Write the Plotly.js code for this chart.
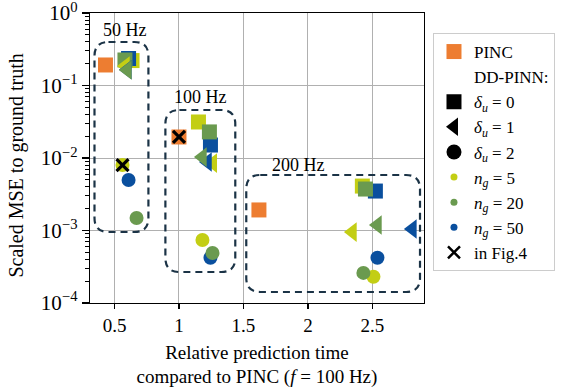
<!DOCTYPE html>
<html><head><meta charset="utf-8">
<script src="https://cdn.plot.ly/plotly-3.0.1.min.js"></script>
<style>html,body{margin:0;padding:0;background:#fff}#plot{width:569px;height:391px}</style>
</head><body><div id="plot"></div>
<script>
// ---- data ----
const freqLabels = ['50 Hz', '100 Hz', '200 Hz'];
const pincTime = [0.43, 1.0, 1.62];
const pincMSE  = [0.192, 0.0195, 0.00192];

// delta_u = 0 (squares), per frequency [50, 100, 200]
const sq_ng5_time  = [0.636, 1.151, 2.422];
const sq_ng5_mse   = [0.221, 0.0314, 0.0041];
const sq_ng20_time = [0.581, 1.236, 2.446];
const sq_ng20_mse  = [0.225, 0.0229, 0.00373];
const sq_ng50_time = [0.609, 1.244, 2.523];
const sq_ng50_mse  = [0.236, 0.0151, 0.0035];
// delta_u = 1 (left triangles)
const tri_ng5_time  = [0.585, 1.262, 2.345];
const tri_ng5_mse   = [0.186, 0.0085, 0.00095];
const tri_ng20_time = [0.60, 1.182, 2.539];
const tri_ng20_mse  = [0.164, 0.0103, 0.00119];
const tri_ng50_time = [0.60, 1.221, 2.81];
const tri_ng50_mse  = [0.165, 0.0088, 0.00105];
// delta_u = 2 (circles)
const cir_ng5_time  = [0.562, 1.182, 2.508];
const cir_ng5_mse   = [0.0080, 0.00074, 0.00023];
const cir_ng20_time = [0.671, 1.26, 2.43];
const cir_ng20_mse  = [0.00149, 0.00049, 0.00026];
const cir_ng50_time = [0.609, 1.244, 2.539];
const cir_ng50_mse  = [0.00497, 0.00042, 0.00042];
// points shown in Fig.4
const fig4Time = [0.562, 1.0];
const fig4MSE  = [0.0080, 0.0195];

const yTickVals = [1, 0.1, 0.01, 0.001, 0.0001];
const yTickText = ['10<sup>0</sup>', '10<sup>\u22121</sup>', '10<sup>\u22122</sup>', '10<sup>\u22123</sup>', '10<sup>\u22124</sup>'];
const xTickVals = [0.5, 1, 1.5, 2, 2.5];
const xTickText = ['0.5', '1', '1.5', '2', '2.5'];

// ---- styles ----
const ORANGE = '#ED7D31', YEL = '#C3CE14', GRN = '#6A9A4F', BLU = '#0A4F9E';
const FONT = "'Liberation Serif', serif";
const SQ = 15, TRI = 17, CIR = 14;

function pts(x, y, sym, size, color) {
  return {type: 'scatter', mode: 'markers', x: x, y: y, showlegend: false, hoverinfo: 'skip',
          marker: {symbol: sym, size: size, color: color, line: {width: 0}}};
}
function leg(name, sym, size, color, lw) {
  return {type: 'scatter', mode: 'markers', x: [null], y: [null], name: name, showlegend: true,
          marker: {symbol: sym, size: size, color: color, line: {width: lw || 0, color: '#000'}}};
}

const traces = [
  pts(sq_ng5_time, sq_ng5_mse, 'square', SQ, YEL),
  pts(sq_ng50_time, sq_ng50_mse, 'square', SQ, BLU),
  pts(sq_ng20_time, sq_ng20_mse, 'square', SQ, GRN),
  pts(tri_ng5_time, tri_ng5_mse, 'triangle-left', TRI, YEL),
  pts(tri_ng50_time, tri_ng50_mse, 'triangle-left', TRI, BLU),
  pts(tri_ng20_time, tri_ng20_mse, 'triangle-left', TRI, GRN),
  pts(cir_ng5_time, cir_ng5_mse, 'circle', CIR, YEL),
  pts(cir_ng50_time, cir_ng50_mse, 'circle', CIR, BLU),
  pts(cir_ng20_time, cir_ng20_mse, 'circle', CIR, GRN),
  pts(pincTime, pincMSE, 'square', SQ, ORANGE),
  {type: 'scatter', mode: 'markers', x: fig4Time, y: fig4MSE, showlegend: false, hoverinfo: 'skip',
   marker: {symbol: 'x-thin', size: 12, color: '#000', line: {width: 3.2, color: '#000'}}},
  // legend entries
  leg('PINC', 'square', 15, ORANGE),
  leg('DD-PINN:', 'square', 15, 'rgba(0,0,0,0)'),
  leg('<i>δ<sub>u</sub></i> = 0', 'square', 15, '#000'),
  leg('<i>δ<sub>u</sub></i> = 1', 'triangle-left', 16, '#000'),
  leg('<i>δ<sub>u</sub></i> = 2', 'circle', 15, '#000'),
  leg('<i>n<sub>g</sub></i> = 5', 'circle', 7, YEL),
  leg('<i>n<sub>g</sub></i> = 20', 'circle', 7, GRN),
  leg('<i>n<sub>g</sub></i> = 50', 'circle', 7, BLU),
  leg('in Fig.4', 'x-thin', 12, '#000', 2.5)
];

// minor tick positions for the log axis (2..9 per decade)
const minorVals = [];
for (let e = -4; e < 0; e++) for (let m = 2; m <= 9; m++) minorVals.push(m * Math.pow(10, e));

// plot area in pixels
const L = 89.5, R = 424, T = 13, B = 303;
const W = R - L, H = B - T;
const px = v => (v - L) / W, py = v => (B - v) / H;
function rbox(x0, y0, x1, y1, r) {
  const p = [
    'M', px(x0 + r), py(y0), 'L', px(x1 - r), py(y0),
    'Q', px(x1), py(y0), px(x1), py(y0 + r),
    'L', px(x1), py(y1 - r),
    'Q', px(x1), py(y1), px(x1 - r), py(y1),
    'L', px(x0 + r), py(y1),
    'Q', px(x0), py(y1), px(x0), py(y1 - r),
    'L', px(x0), py(y0 + r),
    'Q', px(x0), py(y0), px(x0 + r), py(y0), 'Z'];
  return {type: 'path', xref: 'paper', yref: 'paper', path: p.join(' '),
          line: {color: '#1B3346', width: 2.2, dash: '7px,5px'}, layer: 'above'};
}
const boxes = [
  [94, 42, 148, 232],
  [165, 110, 235, 272],
  [246, 175, 420, 292]
];
const labelPos = [[125, 30], [200, 97], [298, 165]];

const annotations = freqLabels.map((t, i) => ({text: t, xref: 'paper', yref: 'paper',
     x: px(labelPos[i][0]), y: py(labelPos[i][1]), xanchor: 'center', yanchor: 'middle',
     showarrow: false, font: {size: 18, family: FONT}}));
annotations.push({text: 'Scaled MSE to ground truth', xref: 'paper', yref: 'paper',
     x: px(15), y: py(166), xanchor: 'center', yanchor: 'middle', textangle: -90,
     showarrow: false, font: {size: 20, family: FONT}});

const layout = {
  width: 569, height: 391,
  margin: {l: L, r: 569 - R, t: T, b: 391 - B, pad: 0},
  paper_bgcolor: '#fff', plot_bgcolor: '#fff',
  font: {family: FONT, color: '#000', size: 17},
  xaxis: {range: [0.31, 2.90], tickvals: xTickVals, ticktext: xTickText,
          showgrid: true, gridcolor: '#b0b0b0', gridwidth: 1, zeroline: false,
          showline: true, linecolor: '#000', linewidth: 1.3, mirror: true,
          ticks: 'outside', ticklen: 5, tickwidth: 1.2, tickcolor: '#000',
          tickfont: {size: 19, family: FONT}, ticklabeloverflow: 'allow',
          title: {text: 'Relative prediction time<br>compared to PINC (<i>f</i> = 100 Hz)', font: {size: 19, family: FONT}, standoff: 10}},
  yaxis: {type: 'log', range: [-4.0005, 0.0005], tickvals: yTickVals, ticktext: yTickText,
          showgrid: true, gridcolor: '#b0b0b0', gridwidth: 1, zeroline: false,
          showline: true, linecolor: '#000', linewidth: 1.3, mirror: true,
          ticks: 'outside', ticklen: 7, tickwidth: 1.2, tickcolor: '#000',
          tickfont: {size: 21, family: FONT}, ticklabeloverflow: 'allow',
          minor: {tickmode: 'array', tickvals: minorVals, ticks: 'outside', ticklen: 4, tickwidth: 1, tickcolor: '#000', showgrid: false}},
  legend: {x: (433 - L) / W, y: py(33), xanchor: 'left', yanchor: 'top',
           bgcolor: '#fff', bordercolor: '#cccccc', borderwidth: 1,
           font: {size: 17, family: FONT}, itemclick: false},
  shapes: boxes.map(b => rbox(b[0], b[1], b[2], b[3], 14)),
  annotations: annotations
};

Plotly.newPlot('plot', traces, layout, {staticPlot: true, displayModeBar: false});
</script></body></html>
